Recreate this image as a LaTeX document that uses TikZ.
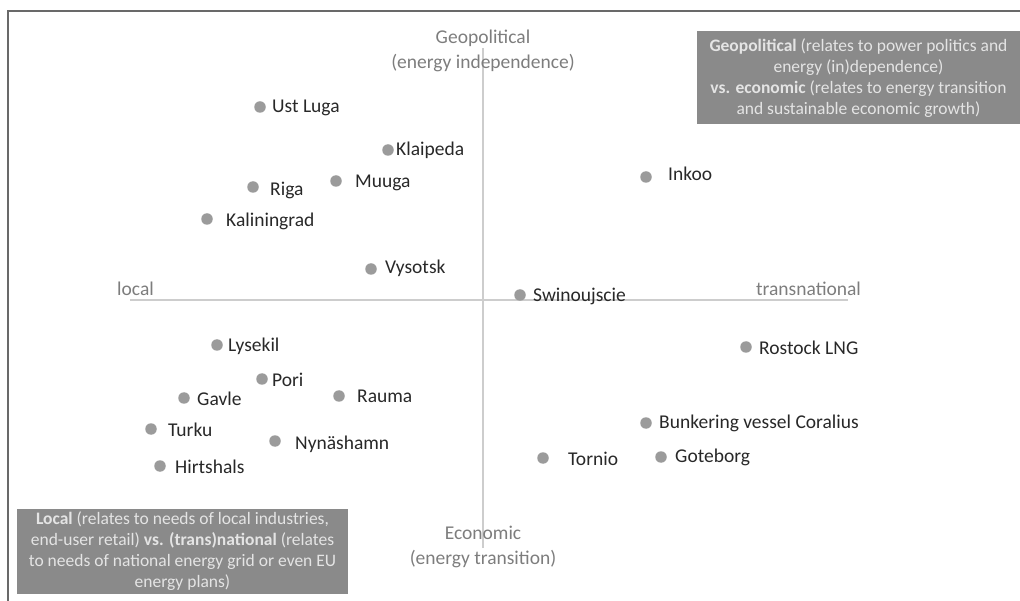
\documentclass[tikz,border=0pt]{standalone}
\usepackage{fontspec}
\setmainfont{Carlito}
\usetikzlibrary{positioning}

\definecolor{dotgray}{RGB}{155,155,155}
\definecolor{portgray}{RGB}{40,40,40}
\definecolor{axisgray}{RGB}{125,125,125}
\definecolor{axisline}{RGB}{205,205,205}
\definecolor{boxgray}{RGB}{138,138,138}
\definecolor{boxtext}{RGB}{228,228,228}
\definecolor{framegray}{RGB}{105,105,105}

\tikzset{
    dot/.style={ circle, fill=dotgray, inner sep=0pt, minimum size=11.5pt},
    port/.style={ anchor=west, text=portgray, inner sep=0pt, font=\fontsize{19.5}{23}\selectfont},
    axislbl/.style={ text=axisgray, inner sep=0pt, align=center, font=\fontsize{19.5}{25}\selectfont},
    axis/.style={ draw=axisline, line width=1.5pt},
    notebox/.style={ fill=boxgray, text=boxtext, align=center, inner sep=0pt, font=\fontsize{17.5}{21}\selectfont},
    %Define style for boxes
  }

\begin{document}
\begin{tikzpicture}[x=1pt, y=-1pt]

\useasboundingbox (0,0) rectangle (1020,601);

% frame
  \draw[framegray, line width=1.5pt] (8,601) -- (8,11) -- (1020,11);

% axes
  \coordinate (geoEnd) at (483,48);
  \coordinate (ecoEnd) at (483,548);
  \coordinate (locEnd) at (130,300);
  \coordinate (traEnd) at (848,300);
  \draw[axis] (ecoEnd) -- (geoEnd);
  \draw[axis] (locEnd) -- (traEnd);

  \node[axislbl] (geo) at (483,51) {Geopolitical\\(energy independence)};
  \node[axislbl] (eco) at (483,547) {Economic\\(energy transition)};
  \node[axislbl, anchor=west] (loc) at (117,289) {local};
  \node[axislbl, anchor=west] (tra) at (756,289) {transnational};

% ports, upper left
  \node[dot] (ustluga) at (260,107) {};
  \node[port] (ustlugaL) at (272,108) {Ust Luga};
  \node[dot] (klaipeda) at (388,150) {};
  \node[port] (klaipedaL) at (396,150) {Klaipeda};
  \node[dot] (riga) at (253,187) {};
  \node[port] (rigaL) at (270,190) {Riga};
  \node[dot] (muuga) at (336,181) {};
  \node[port] (muugaL) at (355,183) {Muuga};
  \node[dot] (kaliningrad) at (207,219) {};
  \node[port] (kaliningradL) at (226,221) {Kaliningrad};
  \node[dot] (vysotsk) at (371,269) {};
  \node[port] (vysotskL) at (385,268) {Vysotsk};

% ports, right
  \node[dot] (inkoo) at (646,177) {};
  \node[port] (inkooL) at (668,174) {Inkoo};
  \node[dot] (swinoujscie) at (520,295) {};
  \node[port] (swinoujscieL) at (533,296) {Swinoujscie};
  \node[dot] (rostock) at (746,347) {};
  \node[port] (rostockL) at (759,348) {Rostock LNG};
  \node[dot] (coralius) at (646,423) {};
  \node[port] (coraliusL) at (659,423) {Bunkering vessel Coralius};
  \node[dot] (tornio) at (543,458) {};
  \node[port] (tornioL) at (568,459) {Tornio};
  \node[dot] (goteborg) at (661,457) {};
  \node[port] (goteborgL) at (675,457) {Goteborg};

% ports, lower left
  \node[dot] (lysekil) at (217,345) {};
  \node[port] (lysekilL) at (228,346) {Lysekil};
  \node[dot] (pori) at (262,379) {};
  \node[port] (poriL) at (272,380) {Pori};
  \node[dot] (gavle) at (184,398) {};
  \node[port] (gavleL) at (197,399) {Gavle};
  \node[dot] (rauma) at (339,396) {};
  \node[port] (raumaL) at (357,396) {Rauma};
  \node[dot] (turku) at (151,429) {};
  \node[port] (turkuL) at (168,430) {Turku};
  \node[dot] (nynashamn) at (275,441) {};
  \node[port] (nynashamnL) at (295,444) {Nynäshamn};
  \node[dot] (hirtshals) at (160,466) {};
  \node[port] (hirtshalsL) at (175,467) {Hirtshals};

% explanation boxes
  \node[notebox, minimum width=323pt, minimum height=93pt] (geonote) at (858.5,78) {\textbf{Geopolitical} (relates to power politics and\\energy (in)dependence)\\\textbf{vs. economic} (relates to energy transition\\and sustainable economic growth)};
  \node[notebox, minimum width=331pt, minimum height=85pt] (locnote) at (182.5,551) {\textbf{Local} (relates to needs of local industries,\\end-user retail) \textbf{vs. (trans)national} (relates\\to needs of national energy grid or even EU\\energy plans)};

\end{tikzpicture}
\end{document}
